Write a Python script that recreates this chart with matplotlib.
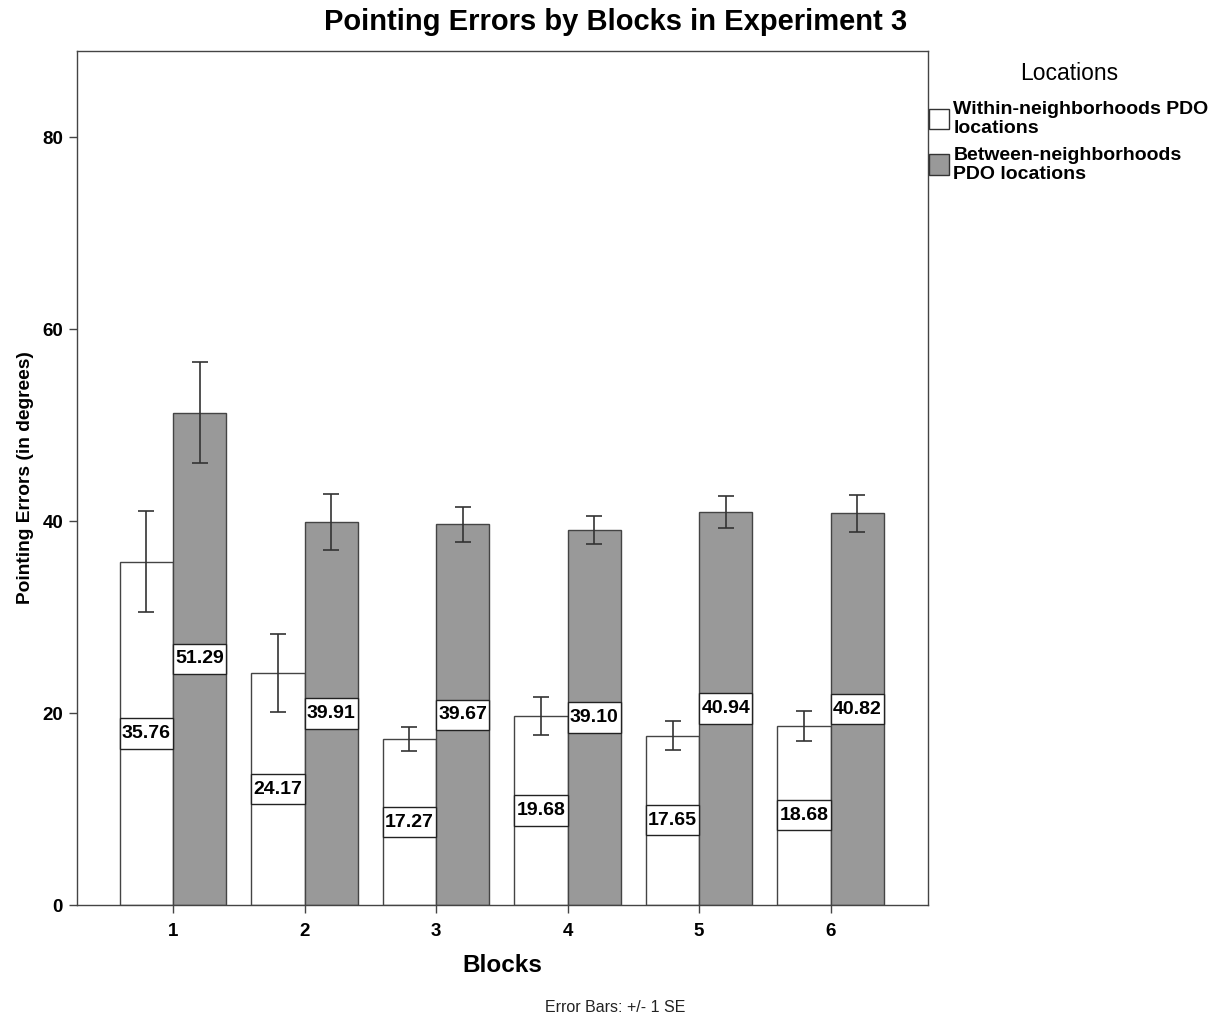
import matplotlib
matplotlib.use("Agg")
import matplotlib.pyplot as plt
from matplotlib.patches import Patch, Rectangle
import numpy as np

plt.rcParams['font.family'] = ['Liberation Sans', 'DejaVu Sans']

blocks = ["1", "2", "3", "4", "5", "6"]
within = [35.76, 24.17, 17.27, 19.68, 17.65, 18.68]
between = [51.29, 39.91, 39.67, 39.10, 40.94, 40.82]
within_se = [5.25, 4.05, 1.25, 2.0, 1.5, 1.55]
between_se = [5.25, 2.9, 1.85, 1.45, 1.7, 1.9]
series_names = ["Within-neighborhoods PDO\nlocations", "Between-neighborhoods\nPDO locations"]

W, H = 1215, 1019
fig = plt.figure(figsize=(W / 100, H / 100), dpi=100)
ax = fig.add_axes([77 / W, (H - 905) / H, (928 - 77) / W, (905 - 51) / H])

x = np.arange(1, len(blocks) + 1)
w = 0.405
edge = "#444444"
b1 = ax.bar(x - w / 2, within, w, color="white", edgecolor=edge, linewidth=1.0, zorder=2)
b2 = ax.bar(x + w / 2, between, w, color="#999999", edgecolor=edge, linewidth=1.0, zorder=2)
ax.errorbar(x - w / 2, within, yerr=within_se, fmt="none", ecolor="#333333", elinewidth=1.2,
            capsize=6, capthick=1.2, zorder=3)
ax.errorbar(x + w / 2, between, yerr=between_se, fmt="none", ecolor="#333333", elinewidth=1.2,
            capsize=6, capthick=1.2, zorder=3)

box_h = 3.15
for bars, vals in ((b1, within), (b2, between)):
    for bar, v in zip(bars, vals):
        yc = v / 2
        ax.add_patch(Rectangle((bar.get_x(), yc - box_h / 2), bar.get_width(), box_h,
                               facecolor="white", edgecolor="#222222", linewidth=1.0, zorder=4))
        ax.text(bar.get_x() + bar.get_width() / 2, yc, f"{v:.2f}", ha="center", va="center",
                fontsize=14, fontweight="bold", zorder=5)

ax.set_xlim(0.27, 6.74)
ax.set_ylim(0, 89)
ax.set_xticks(x)
ax.set_xticklabels(blocks)
ax.set_yticks([0, 20, 40, 60, 80])
ax.tick_params(axis="both", direction="out", length=6, width=1.0, color="#444444",
               labelsize=13.5, pad=4)
ax.tick_params(axis="x", pad=7)
for lab in ax.get_xticklabels() + ax.get_yticklabels():
    lab.set_fontweight("bold")
for s in ax.spines.values():
    s.set_color("#444444")
    s.set_linewidth(1.0)

ax.set_xlabel("Blocks", fontsize=17.5, fontweight="bold", labelpad=10)
ax.set_ylabel("Pointing Errors (in degrees)", fontsize=13.8, fontweight="bold", labelpad=6)

fig.text(615.5 / W, 1 - 22 / H, "Pointing Errors by Blocks in Experiment 3", ha="center",
         va="center", fontsize=21, fontweight="bold")
fig.text(615.5 / W, 1 - 1007 / H, "Error Bars: +/- 1 SE", ha="center", va="center",
         fontsize=11.5, color="#222222")

handles = [Patch(facecolor="white", edgecolor="#333333", label=series_names[0]),
           Patch(facecolor="#999999", edgecolor="#333333", label=series_names[1])]
leg = fig.legend(handles=handles, title="Locations", loc="upper left",
                 bbox_to_anchor=(929 / W, 1 - 62 / H), frameon=False, fontsize=14,
                 title_fontsize=16.5, handlelength=1.05, handleheight=1.25, handletextpad=0.2,
                 labelspacing=0.5, borderaxespad=0, borderpad=0)
for t in leg.get_texts():
    t.set_fontweight("bold")
    t.set_linespacing(1.15)
leg._legend_box.align = "center"
leg._legend_box.sep = 11.5

fig.savefig("out.png", dpi=100)
